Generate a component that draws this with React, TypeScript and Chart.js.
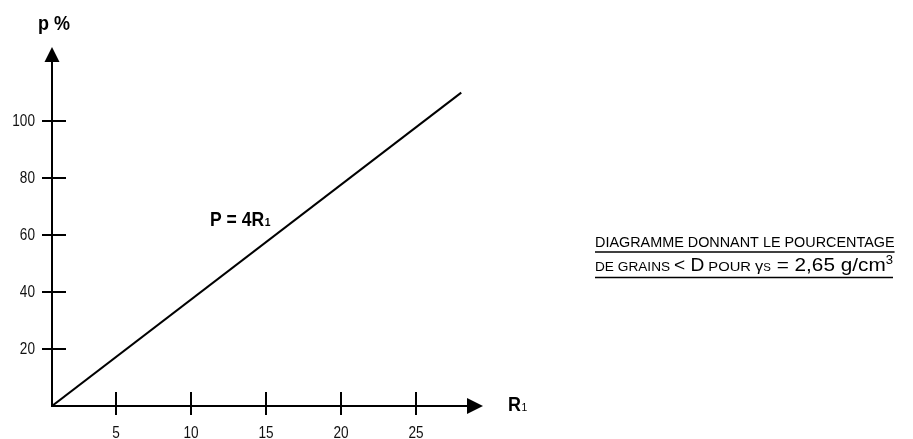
import React, { useEffect, useRef } from "react";
import { Chart, registerables } from "chart.js";

Chart.register(...registerables);

// Data
const lineR: number[] = [0.73, 28.0];
const lineP: number[] = [0, 110];
const xTickValues: number[] = [5, 10, 15, 20, 25];
const yTickValues: number[] = [20, 40, 60, 80, 100];
const xMin = 0.73;
const xMax = 29.45;
const yMin = 0;
const yMax = 126;

const SANS = "'Liberation Sans', Arial, sans-serif";

function scaledText(
  ctx: CanvasRenderingContext2D,
  text: string,
  x: number,
  y: number,
  sx: number,
  align: CanvasTextAlign = "left"
) {
  ctx.save();
  ctx.translate(x, y);
  ctx.scale(sx, 1);
  ctx.textAlign = align;
  ctx.fillText(text, 0, 0);
  ctx.restore();
}

const axesPlugin = {
  id: "axesPlugin",
  afterDraw(chart: any) {
    const ctx = chart.ctx as CanvasRenderingContext2D;
    const xs = chart.scales.x;
    const ys = chart.scales.y;
    const area = chart.chartArea;
    const x0 = xs.getPixelForValue(xMin);
    const y0 = ys.getPixelForValue(yMin);
    ctx.save();
    ctx.strokeStyle = "#000";
    ctx.fillStyle = "#000";
    ctx.lineWidth = 2;
    ctx.lineCap = "butt";
    // x axis
    ctx.beginPath();
    ctx.moveTo(x0, y0);
    ctx.lineTo(area.right - 14, y0);
    ctx.stroke();
    ctx.beginPath();
    ctx.moveTo(area.right - 16, y0 - 8);
    ctx.lineTo(area.right, y0);
    ctx.lineTo(area.right - 16, y0 + 8);
    ctx.closePath();
    ctx.fill();
    // y axis
    ctx.beginPath();
    ctx.moveTo(x0, y0 + 1);
    ctx.lineTo(x0, area.top + 14);
    ctx.stroke();
    ctx.beginPath();
    ctx.moveTo(x0 - 7.5, area.top + 15);
    ctx.lineTo(x0, area.top);
    ctx.lineTo(x0 + 7.5, area.top + 15);
    ctx.closePath();
    ctx.fill();

    // ticks
    ctx.lineWidth = 2;
    ctx.font = `17px ${SANS}`;
    ctx.fillStyle = "#111";
    ctx.textBaseline = "middle";
    for (const v of yTickValues) {
      const y = Math.round(ys.getPixelForValue(v));
      ctx.beginPath();
      ctx.moveTo(x0 - 10, y);
      ctx.lineTo(x0 + 14, y);
      ctx.stroke();
      scaledText(ctx, String(v), x0 - 17, y + 0.5, 0.8, "right");
    }
    for (const v of xTickValues) {
      const x = Math.round(xs.getPixelForValue(v));
      ctx.beginPath();
      ctx.moveTo(x, y0 - 14);
      ctx.lineTo(x, y0 + 9);
      ctx.stroke();
      scaledText(ctx, String(v), x, y0 + 27.5, 0.8, "center");
    }

    // axis titles
    ctx.fillStyle = "#000";
    ctx.textBaseline = "alphabetic";
    ctx.font = `bold 20px ${SANS}`;
    scaledText(ctx, "p %", x0 + 2, 30, 0.9, "center");

    ctx.font = `bold 19.5px ${SANS}`;
    scaledText(ctx, "R", 508, 411, 0.92);
    const rw = ctx.measureText("R").width * 0.92;
    ctx.font = `11.5px ${SANS}`;
    scaledText(ctx, "1", 508 + rw + 0.5, 411, 0.9);

    // equation label
    ctx.font = `bold 19.5px ${SANS}`;
    const eq = "P = 4R";
    scaledText(ctx, eq, 210, 226, 0.9);
    const ew = ctx.measureText(eq).width * 0.9;
    ctx.font = `bold 11.5px ${SANS}`;
    scaledText(ctx, "1", 210 + ew + 0.5, 226, 0.9);

    // note text
    const nx = 595;
    ctx.font = `14.4px ${SANS}`;
    const l1 = "DIAGRAMME DONNANT LE POURCENTAGE";
    ctx.textAlign = "left";
    ctx.fillText(l1, nx, 247);
    const l1w = ctx.measureText(l1).width;
    ctx.lineWidth = 1.3;
    ctx.beginPath();
    ctx.moveTo(nx, 252);
    ctx.lineTo(nx + l1w, 252);
    ctx.stroke();

    const segs: { t: string; size: number; dy: number }[] = [
      { t: "DE GRAINS ", size: 12.5, dy: 0 },
      { t: "< D", size: 17.5, dy: 0 },
      { t: " POUR ", size: 13.5, dy: 0 },
      { t: "γ", size: 15, dy: 0 },
      { t: "S", size: 10.5, dy: 0 },
      { t: " = 2,65 g/cm", size: 19, dy: 0 },
      { t: "3", size: 12, dy: -7.5 },
    ];
    let natural = 0;
    for (const s of segs) {
      ctx.font = `${s.size}px ${SANS}`;
      natural += ctx.measureText(s.t).width;
    }
    const targetW = 298;
    const sx = targetW / natural;
    let cx = nx;
    for (const s of segs) {
      ctx.font = `${s.size}px ${SANS}`;
      scaledText(ctx, s.t, cx, 271 + s.dy, sx);
      cx += ctx.measureText(s.t).width * sx;
    }
    ctx.beginPath();
    ctx.moveTo(nx, 277.5);
    ctx.lineTo(cx, 277.5);
    ctx.stroke();
    ctx.restore();
  },
};

export default function App() {
  const ref = useRef<HTMLCanvasElement | null>(null);
  useEffect(() => {
    if (!ref.current) return;
    const chart = new Chart(ref.current, {
      type: "line",
      data: {
        datasets: [
          {
            data: lineR.map((r, i) => ({ x: r, y: lineP[i] })),
            borderColor: "#000",
            borderWidth: 2,
            pointRadius: 0,
            fill: false,
            tension: 0,
          },
        ],
      },
      options: {
        responsive: false,
        animation: false,
        events: [],
        layout: { padding: { left: 52, right: 430, top: 47, bottom: 33 } },
        plugins: { legend: { display: false }, tooltip: { enabled: false } },
        scales: {
          x: { type: "linear", display: false, min: xMin, max: xMax },
          y: { type: "linear", display: false, min: yMin, max: yMax },
        },
      },
      plugins: [axesPlugin],
    });
    return () => chart.destroy();
  }, []);
  return (
    <div style={{ position: "absolute", left: 0, top: 0, width: 913, height: 439, background: "#fff" }}>
      <canvas ref={ref} width={913} height={439} style={{ width: 913, height: 439 }} />
    </div>
  );
}
